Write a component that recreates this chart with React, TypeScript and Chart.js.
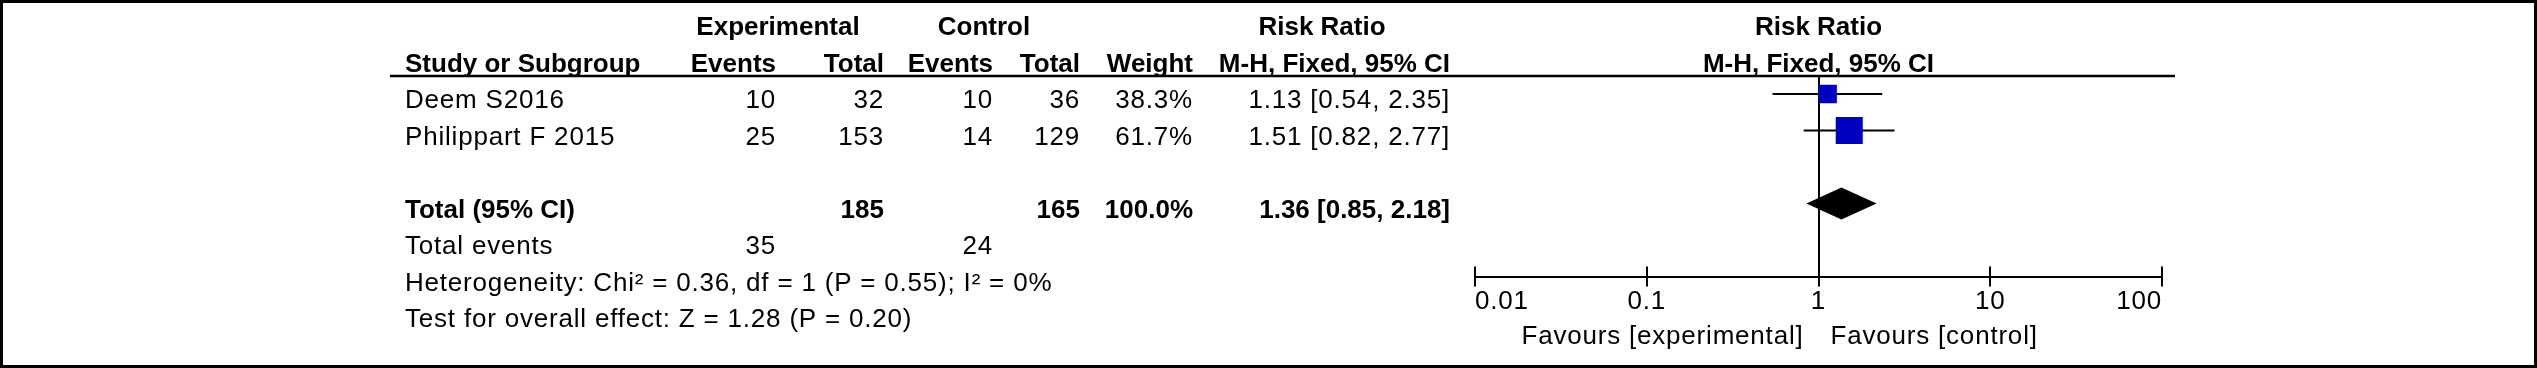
import React, { useEffect, useRef } from "react";
import { Chart, registerables } from "chart.js";

Chart.register(...registerables);

// ---- data ----
const studies = ["Deem S2016", "Philippart F 2015"];
const expEvents = [10, 25];
const expTotal = [32, 153];
const ctrlEvents = [10, 14];
const ctrlTotal = [36, 129];
const weights = [38.3, 61.7];
const riskRatio = [1.13, 1.51];
const ciLow = [0.54, 0.82];
const ciHigh = [2.35, 2.77];

const totalLabel = "Total (95% CI)";
const totalExp = 185;
const totalCtrl = 165;
const totalWeight = 100.0;
const totalRR = 1.36;
const totalLow = 0.85;
const totalHigh = 2.18;
const totalEventsLabel = "Total events";
const totalExpEvents = 35;
const totalCtrlEvents = 24;
const heterogeneity = "Heterogeneity: Chi\u00b2 = 0.36, df = 1 (P = 0.55); I\u00b2 = 0%";
const overallEffect = "Test for overall effect: Z = 1.28 (P = 0.20)";

const tickValues = [0.01, 0.1, 1, 10, 100];
const tickLabels = ["0.01", "0.1", "1", "10", "100"];
const favourLabels = ["Favours [experimental]", "Favours [control]"];

const headerTop = ["Experimental", "Control", "Risk Ratio", "Risk Ratio"];
const headerBottom = ["Study or Subgroup", "Events", "Total", "Events", "Total", "Weight", "M-H, Fixed, 95% CI", "M-H, Fixed, 95% CI"];

// ---- layout ----
const W = 2537;
const H = 368;
const FAMILY = 'Arial, "Liberation Sans", sans-serif';
const PLOT_LEFT = 1475;
const PLOT_RIGHT = 2162;
const PLOT_TOP = 75.75;
const AXIS_Y = 276.5;
const COL = {
  name: 405,
  expEv: 776,
  expTot: 884,
  ctrlEv: 993,
  ctrlTot: 1080,
  weight: 1193,
  rr: 1450,
  expCenter: 778,
  ctrlCenter: 984,
  rrCenter: 1322,
};
const TOTAL_ROW = 4;

function txt(ctx: CanvasRenderingContext2D, s: string, x: number, y: number, align: CanvasTextAlign, bold = false) {
  ctx.font = `${bold ? "bold " : ""}26px ${FAMILY}`;
  (ctx as any).letterSpacing = bold ? "0px" : "0.8px";
  ctx.textAlign = align;
  ctx.textBaseline = "middle";
  ctx.fillStyle = "#000";
  ctx.fillText(s, x, y);
}

const forestPlugin = {
  id: "forestText",
  beforeDraw(chart: any) {
    const ctx = chart.ctx as CanvasRenderingContext2D;
    ctx.save();
    ctx.fillStyle = "#fff";
    ctx.fillRect(0, 0, W, H);
    ctx.restore();
    (ctx as any).letterSpacing = "0.8px";
  },
  afterDatasetsDraw(chart: any) {
    const ctx = chart.ctx as CanvasRenderingContext2D;
    const xs = chart.scales.x;
    const ys = chart.scales.y;
    const cy = ys.getPixelForValue(TOTAL_ROW);
    ctx.save();
    ctx.fillStyle = "#000";
    ctx.beginPath();
    ctx.moveTo(xs.getPixelForValue(totalLow), cy);
    ctx.lineTo(xs.getPixelForValue(totalRR), cy - 16);
    ctx.lineTo(xs.getPixelForValue(totalHigh), cy);
    ctx.lineTo(xs.getPixelForValue(totalRR), cy + 16);
    ctx.closePath();
    ctx.fill();
    ctx.restore();
  },
  afterDraw(chart: any) {
    const ctx = chart.ctx as CanvasRenderingContext2D;
    const xs = chart.scales.x;
    const ys = chart.scales.y;
    const area = chart.chartArea;
    const rowY = (r: number) => ys.getPixelForValue(r) + 7;
    ctx.save();

    // frame
    ctx.strokeStyle = "#000";
    ctx.lineWidth = 3;
    ctx.strokeRect(1.5, 1.5, W - 3, H - 3);

    // upward tick marks
    ctx.lineWidth = 2;
    tickValues.forEach((v) => {
      const px = Math.round(xs.getPixelForValue(v));
      ctx.beginPath();
      ctx.moveTo(px, area.bottom);
      ctx.lineTo(px, area.bottom - 10);
      ctx.stroke();
    });

    // header underline
    ctx.lineWidth = 2.5;
    ctx.beginPath();
    ctx.moveTo(390, 76);
    ctx.lineTo(2175, 76);
    ctx.stroke();

    const plotCenter = xs.getPixelForValue(1);

    // headers
    txt(ctx, headerTop[0], COL.expCenter, rowY(-1), "center", true);
    txt(ctx, headerTop[1], COL.ctrlCenter, rowY(-1), "center", true);
    txt(ctx, headerTop[2], COL.rrCenter, rowY(-1), "center", true);
    txt(ctx, headerTop[3], plotCenter, rowY(-1), "center", true);
    txt(ctx, headerBottom[0], COL.name, rowY(0), "left", true);
    txt(ctx, headerBottom[1], COL.expEv, rowY(0), "right", true);
    txt(ctx, headerBottom[2], COL.expTot, rowY(0), "right", true);
    txt(ctx, headerBottom[3], COL.ctrlEv, rowY(0), "right", true);
    txt(ctx, headerBottom[4], COL.ctrlTot, rowY(0), "right", true);
    txt(ctx, headerBottom[5], COL.weight, rowY(0), "right", true);
    txt(ctx, headerBottom[6], COL.rr, rowY(0), "right", true);
    txt(ctx, headerBottom[7], plotCenter, rowY(0), "center", true);

    // study rows
    studies.forEach((s, i) => {
      const y = rowY(i + 1);
      txt(ctx, s, COL.name, y, "left");
      txt(ctx, String(expEvents[i]), COL.expEv, y, "right");
      txt(ctx, String(expTotal[i]), COL.expTot, y, "right");
      txt(ctx, String(ctrlEvents[i]), COL.ctrlEv, y, "right");
      txt(ctx, String(ctrlTotal[i]), COL.ctrlTot, y, "right");
      txt(ctx, weights[i].toFixed(1) + "%", COL.weight, y, "right");
      txt(ctx, `${riskRatio[i].toFixed(2)} [${ciLow[i].toFixed(2)}, ${ciHigh[i].toFixed(2)}]`, COL.rr, y, "right");
    });

    // total row
    const ty = rowY(TOTAL_ROW);
    txt(ctx, totalLabel, COL.name, ty, "left", true);
    txt(ctx, String(totalExp), COL.expTot, ty, "right", true);
    txt(ctx, String(totalCtrl), COL.ctrlTot, ty, "right", true);
    txt(ctx, totalWeight.toFixed(1) + "%", COL.weight, ty, "right", true);
    txt(ctx, `${totalRR.toFixed(2)} [${totalLow.toFixed(2)}, ${totalHigh.toFixed(2)}]`, COL.rr, ty, "right", true);

    const ey = rowY(TOTAL_ROW + 1);
    txt(ctx, totalEventsLabel, COL.name, ey, "left");
    txt(ctx, String(totalExpEvents), COL.expEv, ey, "right");
    txt(ctx, String(totalCtrlEvents), COL.ctrlEv, ey, "right");
    txt(ctx, heterogeneity, COL.name, rowY(TOTAL_ROW + 2), "left");
    txt(ctx, overallEffect, COL.name, rowY(TOTAL_ROW + 3), "left");

    // favours labels
    const fy = area.bottom + 60.5;
    txt(ctx, favourLabels[0], plotCenter - 15, fy, "right");
    txt(ctx, favourLabels[1], plotCenter + 12, fy, "left");

    ctx.restore();
    (ctx as any).letterSpacing = "0px";
  },
};

export default function App() {
  const ref = useRef<HTMLCanvasElement>(null);
  useEffect(() => {
    document.body.style.margin = "0";
    const canvas = ref.current;
    if (!canvas) return;
    const chart = new Chart(canvas, {
      type: "scatter",
      data: {
        datasets: [
          ...studies.map((s, i) => ({
            type: "line" as const,
            label: s + " 95% CI",
            data: [
              { x: ciLow[i], y: i + 1 },
              { x: ciHigh[i], y: i + 1 },
            ],
            borderColor: "#000",
            borderWidth: 2,
            pointRadius: 0,
            showLine: true,
            fill: false,
            order: 2,
          })),
          {
            type: "scatter" as const,
            label: "Risk ratio",
            data: riskRatio.map((v, i) => ({ x: v, y: i + 1 })),
            pointStyle: "rect",
            pointRadius: (c: any) => (4.6 + 0.363 * weights[c.dataIndex]) / 1.414,
            backgroundColor: "#0000BF",
            borderWidth: 0,
            order: 0,
          },
        ],
      },
      options: {
        animation: false,
        responsive: false,
        devicePixelRatio: 1,
        events: [],
        layout: {
          padding: { left: PLOT_LEFT, right: W - PLOT_RIGHT, top: PLOT_TOP, bottom: 0 },
        },
        plugins: {
          legend: { display: false },
          tooltip: { enabled: false },
        },
        scales: {
          x: {
            type: "logarithmic",
            position: "bottom",
            min: 0.01,
            max: 100,
            afterBuildTicks: (s: any) => {
              s.ticks = tickValues.map((v) => ({ value: v }));
            },
            afterFit: (s: any) => {
              s.height = H - AXIS_Y;
            },
            ticks: {
              autoSkip: false,
              maxRotation: 0,
              minRotation: 0,
              align: "inner",
              padding: 0,
              color: "#000",
              font: { family: FAMILY, size: 26 },
              callback: (_v: any, i: number) => tickLabels[i],
            },
            grid: {
              drawOnChartArea: true,
              drawTicks: true,
              tickLength: 10,
              lineWidth: 2,
              color: (c: any) => (c.tick && c.tick.value === 1 ? "#000" : "rgba(0,0,0,0)"),
              tickColor: "#000",
            },
            border: { display: true, color: "#000", width: 2 },
          },
          y: {
            type: "linear",
            display: false,
            reverse: true,
            min: 0.5,
            max: 6,
          },
        },
      } as any,
      plugins: [forestPlugin],
    });
    return () => chart.destroy();
  }, []);
  return <canvas ref={ref} width={W} height={H} style={{ display: "block", width: W, height: H }} />;
}
